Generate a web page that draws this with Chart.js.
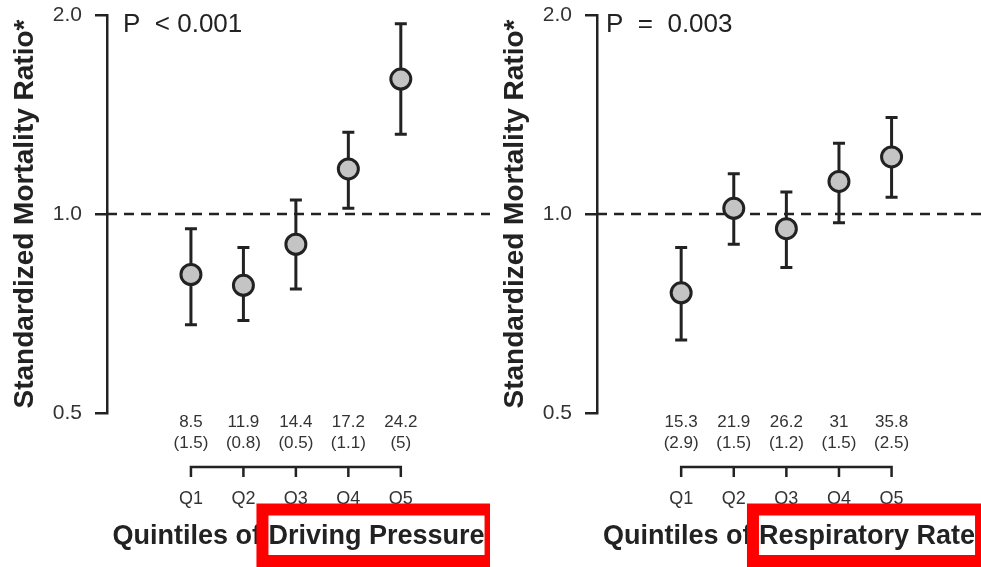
<!DOCTYPE html>
<html lang="en">
<head>
  <meta charset="UTF-8" />
  <title>Standardized Mortality Ratio by quintiles</title>
  <script src="https://cdn.jsdelivr.net/npm/chart.js"></script>
  <style>
    html, body { margin: 0; padding: 0; background: #fff; }
    .row { display: flex; width: 981px; height: 567px; }
    .panel { position: relative; height: 567px; }
  </style>
</head>
<body>

  <div class="row">
    <div class="panel" style="width:490px"><canvas id="chartDP" width="490" height="567"></canvas></div>
    <div class="panel" style="width:491px"><canvas id="chartRR" width="491" height="567"></canvas></div>
  </div>

  <script>
    // shared
    const quintiles = ['Q1', 'Q2', 'Q3', 'Q4', 'Q5'];
    const yTicks = [0.5, 1.0, 2.0];
    const refLine = 1.0;

    // Driving pressure panel
    const dpMeans = ['8.5', '11.9', '14.4', '17.2', '24.2'];
    const dpSds = ['1.5', '0.8', '0.5', '1.1', '5'];
    const dpSmr = [0.81, 0.78, 0.90, 1.17, 1.60];
    const dpLower = [0.68, 0.69, 0.77, 1.02, 1.32];
    const dpUpper = [0.95, 0.89, 1.05, 1.33, 1.94];

    // Respiratory rate panel
    const rrMeans = ['15.3', '21.9', '26.2', '31', '35.8'];
    const rrSds = ['2.9', '1.5', '1.2', '1.5', '2.5'];
    const rrSmr = [0.76, 1.02, 0.95, 1.12, 1.22];
    const rrLower = [0.645, 0.90, 0.83, 0.97, 1.06];
    const rrUpper = [0.89, 1.15, 1.08, 1.28, 1.40];

    const INK = '#222';
    Chart.defaults.font.family = "'Liberation Sans', Arial, Helvetica, sans-serif";

    function makePanel(canvasId, opt) {
      const extras = {
        id: 'extras_' + canvasId,
        beforeDatasetsDraw(chart) {
          const ctx = chart.ctx;
          const xs = chart.scales.x, ys = chart.scales.y;
          const area = chart.chartArea;
          ctx.save();
          // dashed reference line
          ctx.strokeStyle = INK;
          ctx.lineWidth = 2.5;
          ctx.setLineDash([10, 7]);
          const yRef = ys.getPixelForValue(refLine);
          ctx.beginPath();
          ctx.moveTo(area.left, yRef);
          ctx.lineTo(area.right, yRef);
          ctx.stroke();
          ctx.setLineDash([]);
          // error bars
          ctx.lineWidth = 3;
          opt.lower.forEach((lo, i) => {
            const x = xs.getPixelForValue(i);
            const y1 = ys.getPixelForValue(lo);
            const y2 = ys.getPixelForValue(opt.upper[i]);
            ctx.beginPath();
            ctx.moveTo(x, y1); ctx.lineTo(x, y2);
            ctx.moveTo(x - 6, y1); ctx.lineTo(x + 6, y1);
            ctx.moveTo(x - 6, y2); ctx.lineTo(x + 6, y2);
            ctx.stroke();
          });
          ctx.restore();
        },
        afterDraw(chart) {
          const ctx = chart.ctx;
          const xs = chart.scales.x;
          const area = chart.chartArea;
          const base = area.bottom;
          ctx.save();
          // P value
          ctx.fillStyle = INK;
          ctx.font = "26px 'Liberation Sans', Arial, sans-serif";
          ctx.textAlign = 'left';
          ctx.textBaseline = 'middle';
          ctx.fillText(opt.pText, area.left + opt.pOffset, area.top + 10);

          // means and SDs
          ctx.fillStyle = '#333';
          ctx.font = "17px 'Liberation Sans', Arial, sans-serif";
          ctx.textAlign = 'center';
          const px = quintiles.map((q, i) => xs.getPixelForValue(i));
          opt.means.forEach((m, i) => {
            ctx.fillText(m, px[i], base + 9);
            ctx.fillText('(' + opt.sds[i] + ')', px[i], base + 30);
          });

          // bracket
          ctx.strokeStyle = INK;
          ctx.lineWidth = 2.5;
          ctx.beginPath();
          ctx.moveTo(px[0], base + 64);
          ctx.lineTo(px[0], base + 54);
          ctx.lineTo(px[px.length - 1], base + 54);
          ctx.lineTo(px[px.length - 1], base + 64);
          px.slice(1, -1).forEach(x => { ctx.moveTo(x, base + 54); ctx.lineTo(x, base + 64); });
          ctx.stroke();

          // quintile labels
          ctx.fillStyle = '#333';
          ctx.font = "18px 'Liberation Sans', Arial, sans-serif";
          quintiles.forEach((q, i) => ctx.fillText(q, px[i], base + 86));

          // x title, highlighted part boxed in red
          ctx.font = "bold 27px 'Liberation Sans', Arial, sans-serif";
          ctx.fillStyle = INK;
          const full = opt.titleA + opt.titleB;
          const wFull = ctx.measureText(full).width;
          const wA = ctx.measureText(opt.titleA).width;
          const cx = (area.left + area.right) / 2;
          const tx = cx - wFull / 2;
          ctx.textAlign = 'left';
          ctx.fillText(full, tx, base + 124);
          ctx.strokeStyle = '#ff0000';
          ctx.lineWidth = 12;
          ctx.strokeRect(tx + wA - 6, base + 96.5, wFull - wA + 12, 51.5);
          ctx.restore();
        }
      };

      return new Chart(document.getElementById(canvasId), {
        type: 'scatter',
        data: {
          datasets: [{
            data: opt.smr.map((v, i) => ({ x: i, y: v })),
            pointRadius: 10,
            pointBackgroundColor: '#c4c4c4',
            pointBorderColor: INK,
            pointBorderWidth: 3,
            clip: false
          }]
        },
        options: {
          responsive: false,
          animation: false,
          events: [],
          layout: { autoPadding: false, padding: { top: 15, right: 0, bottom: 154, left: 0 } },
          plugins: { legend: { display: false }, tooltip: { enabled: false } },
          scales: {
            x: { type: 'linear', display: false, min: -1.6, max: 5.7 },
            y: {
              type: 'logarithmic',
              min: 0.5,
              max: 2.0,
              afterBuildTicks: s => { s.ticks = yTicks.map(v => ({ value: v })); },
              afterFit: s => { s.width = 107; s.paddingTop = 0; s.paddingBottom = 0; },
              border: { display: true, color: INK, width: 2.5 },
              grid: { drawOnChartArea: false, drawTicks: true, tickLength: 12, color: INK, lineWidth: 2.5 },
              ticks: {
                padding: 13,
                color: '#333',
                font: { size: 21 },
                callback: v => Number(v).toFixed(1)
              },
              title: {
                display: true,
                text: 'Standardized Mortality Ratio*',
                color: INK,
                font: { size: 28, weight: 'bold' },
                padding: { top: 8, bottom: 0 }
              }
            }
          }
        },
        plugins: [extras]
      });
    }

    makePanel('chartDP', {
      smr: dpSmr, lower: dpLower, upper: dpUpper, means: dpMeans, sds: dpSds,
      pText: 'P  < 0.001', pOffset: 16,
      titleA: 'Quintiles of ', titleB: 'Driving Pressure'
    });

    makePanel('chartRR', {
      smr: rrSmr, lower: rrLower, upper: rrUpper, means: rrMeans, sds: rrSds,
      pText: 'P  =  0.003', pOffset: 9,
      titleA: 'Quintiles of ', titleB: 'Respiratory Rate'
    });
  </script>
</body>
</html>
